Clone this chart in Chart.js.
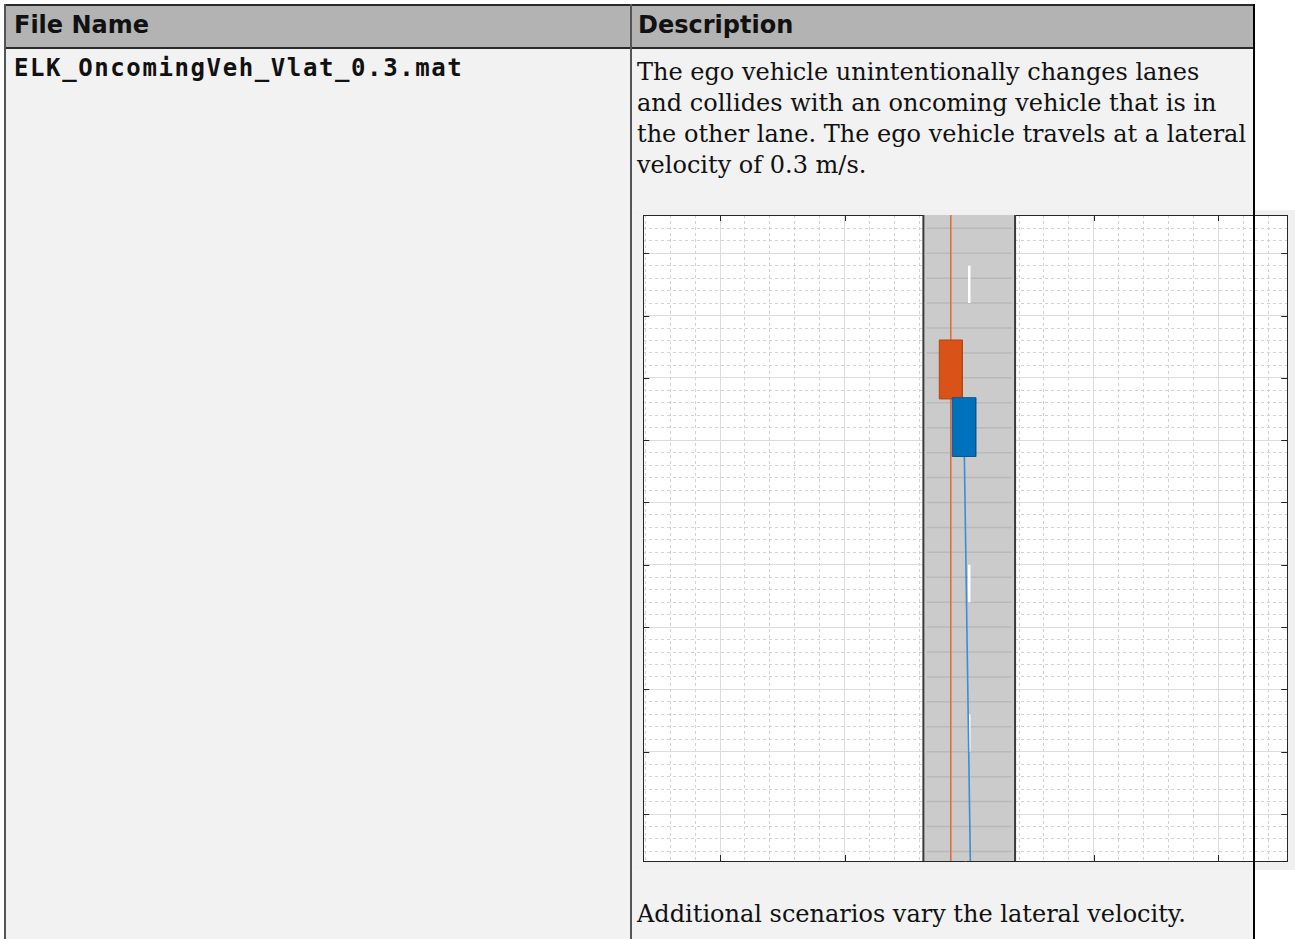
<!DOCTYPE html>
<html><head><meta charset="utf-8">
<script src="https://cdn.jsdelivr.net/npm/chart.js@4/dist/chart.umd.min.js"></script>
<style>
html,body{margin:0;padding:0;background:#fff;width:1295px;height:939px;overflow:hidden;position:relative;}
.abs{position:absolute;}
#hdr{left:5px;top:5px;width:1249px;height:43px;background:#b3b3b3;}
#row{left:5px;top:48px;width:1249px;height:891px;background:#f2f2f2;}
.h{font-family:"DejaVu Sans";font-weight:bold;font-size:24px;line-height:24px;color:#111;white-space:nowrap;}
.mono{font-family:"DejaVu Sans Mono";font-weight:bold;font-size:24px;line-height:24px;letter-spacing:1.6px;white-space:nowrap;color:#111;}
.serif{font-family:"DejaVu Serif";font-size:24px;line-height:31px;white-space:nowrap;color:#111;}
#fig{left:634px;top:210px;width:661px;height:660px;}
.bl{background:#333;}
</style></head>
<body>
<div id="hdr" class="abs"></div>
<div id="row" class="abs"></div>
<div id="fig" class="abs"><canvas id="c" width="661" height="660"></canvas></div>
<div class="abs h" style="left:14px;top:13px;">File Name</div>
<div class="abs h" style="left:638px;top:13px;">Description</div>
<div class="abs mono" style="left:14px;top:56px;">ELK_OncomingVeh_Vlat_0.3.mat</div>
<div class="abs serif" style="left:637px;top:57px;">The ego vehicle unintentionally changes lanes<br>and collides with an oncoming vehicle that is in<br>the other lane. The ego vehicle travels at a lateral<br>velocity of 0.3 m/s.</div>
<div class="abs serif" style="left:637px;top:899px;">Additional scenarios vary the lateral velocity.</div>
<!-- table borders -->
<div class="abs bl" style="left:5px;top:4px;width:1250px;height:2px;background:#2a2a2a;"></div>
<div class="abs bl" style="left:5px;top:47px;width:1250px;height:2px;background:#2a2a2a;"></div>
<div class="abs bl" style="left:4px;top:4px;width:2px;height:935px;background:#555;"></div>
<div class="abs bl" style="left:630px;top:4px;width:2px;height:935px;background:#555;"></div>
<div class="abs bl" style="left:1253px;top:4px;width:2px;height:935px;background:#000;"></div>
<script>
// ---- axis limits and ticks (metres) ----
const X_LIMITS = [-26.16, 25.53];
const Y_LIMITS = [-3.77, 48.07];
const xMajorTicks = [-20, -10, 0, 10, 20];
const yMajorTicks = [0, 5, 10, 15, 20, 25, 30, 35, 40, 45];
const xMinorTicks = [-26,-24,-22,-20,-18,-16,-14,-12,-10,-8,-6,-4,-2,0,2,4,6,8,10,12,14,16,18,20,22,24];
const yMinorTicks = [-3,-2,-1,0,1,2,3,4,5,6,7,8,9,10,11,12,13,14,15,16,17,18,19,20,21,22,23,24,25,26,27,28,29,30,31,32,33,34,35,36,37,38,39,40,41,42,43,44,45,46,47,48];

// ---- road ----
const roadEdgeX = [-3.68, 3.68];
const roadStripeX = [-3.43, 3.43];
const roadStripeY = [-3,-1,1,3,5,7,9,11,13,15,17,19,21,23,25,27,29,31,33,35,37,39,41,43,45,47];
const laneMarkX = 0;
const laneDashStart = [5, 17, 29, 41];
const laneDashEnd = [8, 20, 32, 44];

// ---- actors ----
const targetCarX = [-2.40, -0.55];
const targetCarY = [33.31, 38.04];
const egoCarX = [-1.36, 0.52];
const egoCarY = [28.69, 33.41];
const targetPathX = [-1.48, -1.48];
const targetPathY = [-3.77, 48.07];
const egoPathX = [0.09, -0.39];
const egoPathY = [-3.77, 28.69];

const GAP = {x: NaN, y: NaN};
function rect(xs, ys) {
  return [{x:xs[0],y:ys[0]},{x:xs[0],y:ys[1]},{x:xs[1],y:ys[1]},{x:xs[1],y:ys[0]},{x:xs[0],y:ys[0]}];
}
const roadData = rect(roadEdgeX, Y_LIMITS);
const stripeData = [];
roadStripeY.forEach(y => { stripeData.push({x:roadStripeX[0],y}, {x:roadStripeX[1],y}, GAP); });
const edgeData = [];
roadEdgeX.forEach(x => { edgeData.push({x,y:Y_LIMITS[0]}, {x,y:Y_LIMITS[1]}, GAP); });
const dashData = [];
laneDashStart.forEach((s,i) => { dashData.push({x:laneMarkX,y:s}, {x:laneMarkX,y:laneDashEnd[i]}, GAP); });
const tPath = targetPathX.map((x,i)=>({x, y:targetPathY[i]}));
const ePath = egoPathX.map((x,i)=>({x, y:egoPathY[i]}));

const common = {showLine:true, pointRadius:0, pointHoverRadius:0, fill:false, tension:0, spanGaps:false};
const datasets = [
  {...common, label:'road', data:roadData, fill:'shape', backgroundColor:'#cbcbcb', borderWidth:0, order:100},
  {...common, label:'stripes', data:stripeData, borderColor:'#b9b9b9', borderWidth:1.5, order:90},
  {...common, label:'edges', data:edgeData, borderColor:'#3a3a3a', borderWidth:2, order:80},
  {...common, label:'lane', data:dashData, borderColor:'#ffffff', borderWidth:2.5, order:70},
  {...common, label:'targetPath', data:tPath, borderColor:'#e2703f', borderWidth:1.6, order:60},
  {...common, label:'egoPath', data:ePath, borderColor:'#3a8fd4', borderWidth:1.6, order:50},
  {...common, label:'target', data:rect(targetCarX, targetCarY), fill:'shape', backgroundColor:'#d95319', borderColor:'#b4450f', borderWidth:1, order:20},
  {...common, label:'ego', data:rect(egoCarX, egoCarY), fill:'shape', backgroundColor:'#0072bd', borderColor:'#005a96', borderWidth:1, order:10}
];

const setTicks = arr => (axis => { axis.ticks = arr.map(v => ({value:v})); });
const xMajSet = new Set(xMajorTicks), yMajSet = new Set(yMajorTicks);

const bgPlugin = {
  id:'bg',
  beforeDraw(chart){
    const {ctx, chartArea:a, width, height} = chart;
    ctx.save();
    ctx.fillStyle = '#f0f0f0'; ctx.fillRect(0,0,width,height);
    ctx.fillStyle = '#ffffff'; ctx.fillRect(a.left,a.top,a.right-a.left,a.bottom-a.top);
    ctx.restore();
  }
};
const innerTicks = {
  id:'innerTicks',
  beforeDatasetsDraw(chart){
    const {ctx, chartArea:a, scales} = chart;
    ctx.save(); ctx.strokeStyle = '#262626'; ctx.lineWidth = 1; ctx.beginPath();
    scales.x.ticks.forEach(t => {
      const p = Math.round(scales.x.getPixelForValue(t.value)) + 0.5;
      ctx.moveTo(p, a.top); ctx.lineTo(p, a.top + 6);
      ctx.moveTo(p, a.bottom); ctx.lineTo(p, a.bottom - 6);
    });
    scales.y.ticks.forEach(t => {
      const p = Math.round(scales.y.getPixelForValue(t.value)) + 0.5;
      ctx.moveTo(a.left, p); ctx.lineTo(a.left + 6, p);
      ctx.moveTo(a.right, p); ctx.lineTo(a.right - 6, p);
    });
    ctx.stroke(); ctx.restore();
  }
};

new Chart(document.getElementById('c'), {
  type:'scatter',
  data:{datasets},
  options:{
    responsive:false, animation:false, devicePixelRatio:1,
    layout:{padding:{left:9.3, top:5, right:7.7, bottom:9}},
    plugins:{legend:{display:false}, tooltip:{enabled:false}},
    events:[],
    scales:{
      xMinor:{type:'linear', position:'bottom', min:X_LIMITS[0], max:X_LIMITS[1], afterBuildTicks:setTicks(xMinorTicks),
        ticks:{display:false}, grid:{drawTicks:false, lineWidth:1, color:c => xMajSet.has(c.tick.value) ? 'rgba(0,0,0,0)' : '#d2d2d2'},
        border:{display:false, dash:[3,3]}},
      yMinor:{type:'linear', position:'left', min:Y_LIMITS[0], max:Y_LIMITS[1], afterBuildTicks:setTicks(yMinorTicks),
        ticks:{display:false}, grid:{drawTicks:false, lineWidth:1, color:c => yMajSet.has(c.tick.value) ? 'rgba(0,0,0,0)' : '#d2d2d2'},
        border:{display:false, dash:[3,3]}},
      x:{type:'linear', position:'bottom', min:X_LIMITS[0], max:X_LIMITS[1], afterBuildTicks:setTicks(xMajorTicks),
        ticks:{display:false}, grid:{drawTicks:false, lineWidth:1, color:'#dcdcdc'},
        border:{display:true, color:'#262626', width:1}},
      y:{type:'linear', position:'left', min:Y_LIMITS[0], max:Y_LIMITS[1], afterBuildTicks:setTicks(yMajorTicks),
        ticks:{display:false}, grid:{drawTicks:false, lineWidth:1, color:'#dcdcdc'},
        border:{display:true, color:'#262626', width:1}},
      xTop:{type:'linear', position:'top', min:X_LIMITS[0], max:X_LIMITS[1],
        ticks:{display:false}, grid:{display:false, drawTicks:false},
        border:{display:true, color:'#262626', width:1}},
      yRight:{type:'linear', position:'right', min:Y_LIMITS[0], max:Y_LIMITS[1],
        ticks:{display:false}, grid:{display:false, drawTicks:false},
        border:{display:true, color:'#262626', width:1}}
    }
  },
  plugins:[bgPlugin, innerTicks]
});
</script>
</body></html>
